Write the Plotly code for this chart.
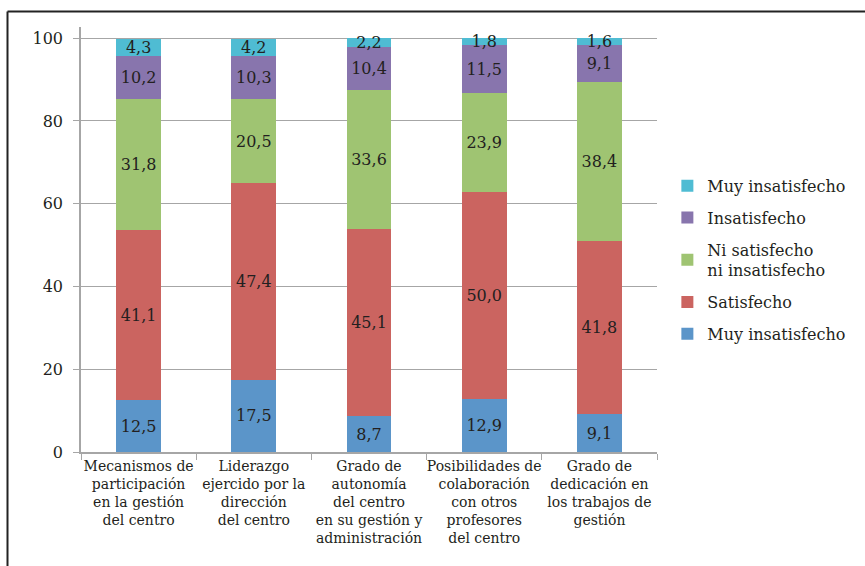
import plotly.graph_objects as go

# Survey categories (x axis)
categories = [
    "Mecanismos de<br>participación<br>en la gestión<br>del centro",
    "Liderazgo<br>ejercido por la<br>dirección<br>del centro",
    "Grado de<br>autonomía<br>del centro<br>en su gestión y<br>administración",
    "Posibilidades de<br>colaboración<br>con otros<br>profesores<br>del centro",
    "Grado de<br>dedicación en<br>los trabajos de<br>gestión",
]

# Percentages per response level (bottom to top of each bar)
muy_satisfecho = [12.5, 17.5, 8.7, 12.9, 9.1]
satisfecho = [41.1, 47.4, 45.1, 50.0, 41.8]
ni_ni = [31.8, 20.5, 33.6, 23.9, 38.4]
insatisfecho = [10.2, 10.3, 10.4, 11.5, 9.1]
muy_insatisfecho = [4.3, 4.2, 2.2, 1.8, 1.6]

series_names = [
    "Muy insatisfecho",
    "Satisfecho",
    "Ni satisfecho<br>ni insatisfecho",
    "Insatisfecho",
    "Muy insatisfecho",
]
series_values = [muy_satisfecho, satisfecho, ni_ni, insatisfecho, muy_insatisfecho]
series_colors = ["#5b95c9", "#cb6460", "#9fc472", "#8875ad", "#4fbcd3"]

y_ticks = [0, 20, 40, 60, 80, 100]

FONT = "DejaVu Serif"
TEXT_COLOR = "#231f20"

fig = go.Figure()
n = len(series_names)
for i, (name, vals, color) in enumerate(zip(series_names, series_values, series_colors)):
    fig.add_trace(go.Bar(
        x=categories,
        y=vals,
        name=name,
        legendgroup=f"g{n - i}",
        legendrank=100 * (n - i),  # top segment listed first
        marker=dict(color=color, line=dict(width=0)),
        text=[f"{v:.1f}".replace(".", ",") for v in vals],
        textposition="inside",
        insidetextanchor="middle",
        textangle=0,
        textfont=dict(family=FONT, size=16, color=TEXT_COLOR),
        hoverinfo="skip",
    ))

# Frame lines around the chart (top and left edges)
L, R, T, B = 81, 208, 27, 114
W = 865 - L - R
H = 566 - T - B


def px_x(px):
    return (px - L) / W


def px_y(py):
    return (566 - B - py) / H


frame = dict(color="#222222", width=2)
fig.add_shape(type="line", xref="paper", yref="paper",
              x0=px_x(7.5), x1=px_x(870), y0=px_y(11.5), y1=px_y(11.5), line=frame)
fig.add_shape(type="line", xref="paper", yref="paper",
              x0=px_x(7.5), x1=px_x(7.5), y0=px_y(11.5), y1=px_y(570), line=frame)

fig.update_layout(
    barmode="stack",
    bargap=0.61,
    width=865,
    height=566,
    margin=dict(l=L, r=R, t=T, b=B, autoexpand=False),
    paper_bgcolor="white",
    plot_bgcolor="white",
    font=dict(family=FONT, color=TEXT_COLOR),
    uniformtext=dict(mode="show", minsize=16),
    showlegend=True,
    legend=dict(
        traceorder="grouped",
        tracegroupgap=8,
        x=1.018, y=0.452, xanchor="left", yanchor="middle",
        font=dict(family=FONT, size=16, color=TEXT_COLOR),
        bgcolor="rgba(0,0,0,0)",
        itemwidth=30,
    ),
    xaxis=dict(
        showline=True, linecolor="#a6a6a6", linewidth=1.5,
        ticks="outside", tickson="boundaries", ticklen=6, tickcolor="#a6a6a6",
        tickfont=dict(family=FONT, size=14, color=TEXT_COLOR),
        tickangle=0, automargin=False,
        showgrid=False,
    ),
    yaxis=dict(
        range=[0, 102.7],
        tickvals=y_ticks,
        ticktext=[str(v) for v in y_ticks],
        showline=True, linecolor="#a6a6a6", linewidth=1.5,
        ticks="outside", ticklen=6, tickcolor="#a6a6a6",
        ticklabelstandoff=7,
        showgrid=True, gridcolor="#a6a6a6", gridwidth=1,
        tickfont=dict(family=FONT, size=16, color=TEXT_COLOR),
        zeroline=False, automargin=False,
    ),
)

fig.write_html("out.html")
